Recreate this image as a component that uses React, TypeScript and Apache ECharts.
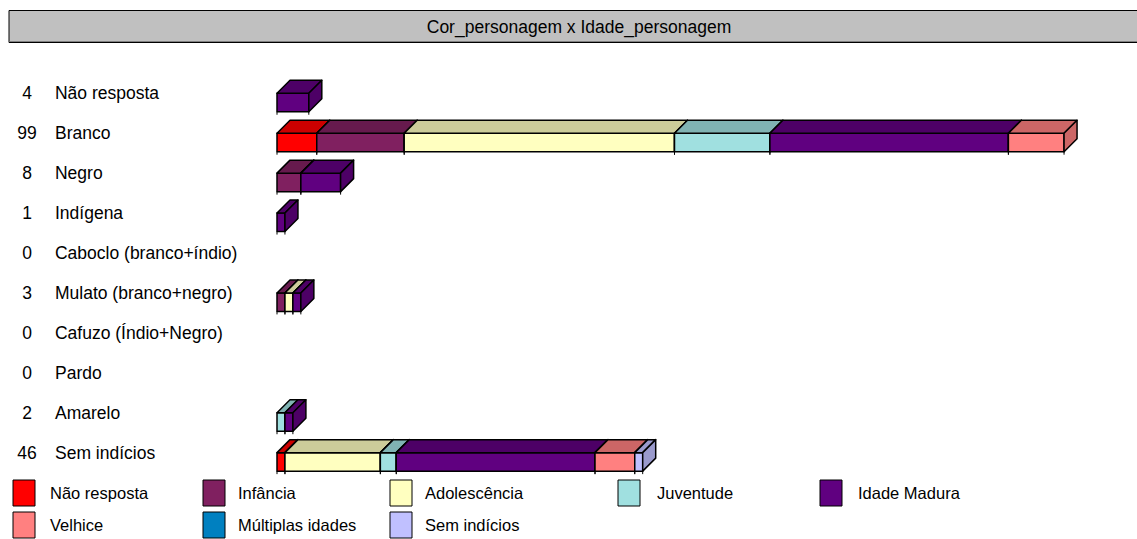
import React, { useEffect, useRef } from 'react';
import * as echarts from 'echarts';

// Categories (Cor_personagem)
const categories = [
  'Não resposta',
  'Branco',
  'Negro',
  'Indígena',
  'Caboclo (branco+índio)',
  'Mulato (branco+negro)',
  'Cafuzo (Índio+Negro)',
  'Pardo',
  'Amarelo',
  'Sem indícios',
];

// Series (Idade_personagem)
const ageGroups = [
  'Não resposta',
  'Infância',
  'Adolescência',
  'Juventude',
  'Idade Madura',
  'Velhice',
  'Múltiplas idades',
  'Sem indícios',
];

const naoResposta = [0, 5, 0, 0, 0, 0, 0, 0, 0, 1];
const infancia = [0, 11, 3, 0, 0, 1, 0, 0, 0, 0];
const adolescencia = [0, 34, 0, 0, 0, 1, 0, 0, 0, 12];
const juventude = [0, 12, 0, 0, 0, 0, 0, 0, 1, 2];
const idadeMadura = [4, 30, 5, 1, 0, 1, 0, 0, 1, 25];
const velhice = [0, 7, 0, 0, 0, 0, 0, 0, 0, 5];
const multiplasIdades = [0, 0, 0, 0, 0, 0, 0, 0, 0, 0];
const semIndicios = [0, 0, 0, 0, 0, 0, 0, 0, 0, 1];

const seriesValues = [
  naoResposta,
  infancia,
  adolescencia,
  juventude,
  idadeMadura,
  velhice,
  multiplasIdades,
  semIndicios,
];

const chartTitle = 'Cor_personagem x Idade_personagem';

// Styles
const frontColors = ['#FF0000', '#802060', '#FFFFC0', '#A0E0E0', '#600080', '#FF8080', '#0080C0', '#C0C0FF'];
const topColors = ['#CC0000', '#661A4D', '#CCCC9A', '#80B3B3', '#4D0066', '#CC6666', '#006699', '#9A9ACC'];
const FONT = "'Liberation Sans', Arial, sans-serif";
const FS = 17.5;
const LFS = 16.5;

export default function App() {
  const ref = useRef<HTMLDivElement>(null);

  useEffect(() => {
    const chart = echarts.init(ref.current as HTMLDivElement, null, { renderer: 'svg' });

    const totals = categories.map((_, i) => seriesValues.reduce((s, arr) => s + arr[i], 0));
    const cum = categories.map(() => 0);
    const D = 13;
    const H = 18.5;

    const series = seriesValues.map((vals, si) => {
      const data: number[][] = [];
      vals.forEach((v, ci) => {
        if (v > 0) data.push([ci, cum[ci], cum[ci] + v]);
        cum[ci] += v;
      });
      return {
        type: 'custom',
        name: ageGroups[si],
        data,
        encode: { x: [1, 2], y: 0 },
        renderItem: (params: any, api: any) => {
          const c = api.value(0);
          const s = api.value(1);
          const e = api.value(2);
          const p0 = api.coord([s, c]);
          const p1 = api.coord([e, c]);
          const x0 = p0[0];
          const x1 = p1[0];
          const y = p0[1];
          const st = { stroke: '#000', lineWidth: 1.5, lineJoin: 'round' };
          return {
            type: 'group',
            children: [
              {
                type: 'rect',
                shape: { x: x0, y, width: x1 - x0, height: H },
                style: { fill: frontColors[si], ...st },
                z2: si * 10,
              },
              {
                type: 'polygon',
                shape: { points: [[x0, y], [x0 + D, y - D], [x1 + D, y - D], [x1, y]] },
                style: { fill: topColors[si], ...st },
                z2: si * 10 + 1,
              },
              {
                type: 'polygon',
                shape: { points: [[x1, y], [x1 + D, y - D], [x1 + D, y + H - D], [x1, y + H]] },
                style: { fill: topColors[si], ...st },
                z2: si * 10 + 2,
              },
              {
                type: 'line',
                shape: { x1: x0, y1: y + H, x2: x0, y2: y + H + 3 },
                style: { stroke: '#000', lineWidth: 1 },
                z2: si * 10 + 3,
              },
              {
                type: 'line',
                shape: { x1: x1, y1: y + H, x2: x1, y2: y + H + 3 },
                style: { stroke: '#000', lineWidth: 1 },
                z2: si * 10 + 3,
              },
            ],
          };
        },
      };
    });

    // Legend via graphic
    const legendBoxX = [13, 203, 390, 618, 820];
    const legendTextX = [50, 238, 425, 657, 858];
    const legendRowY = [493, 525];
    const legendEls: any[] = [];
    ageGroups.forEach((name, i) => {
      const row = i < 5 ? 0 : 1;
      const col = i < 5 ? i : i - 5;
      const yc = legendRowY[row];
      legendEls.push({
        type: 'rect',
        shape: { x: legendBoxX[col], y: yc - 13, width: 22, height: 26 },
        style: { fill: frontColors[i], stroke: '#000', lineWidth: 1 },
      });
      legendEls.push({
        type: 'text',
        x: legendTextX[col],
        y: yc,
        style: {
          text: name,
          fill: '#000',
          font: `${LFS}px ${FONT}`,
          textAlign: 'left',
          textVerticalAlign: 'middle',
        },
      });
    });

    chart.setOption({
      animation: false,
      grid: { left: 277, top: 73.3, width: 795, height: 399.3 },
      xAxis: { type: 'value', min: 0, max: 100, show: false },
      yAxis: {
        type: 'category',
        data: categories,
        inverse: true,
        axisLine: { show: false },
        axisTick: { show: false },
        splitLine: { show: false },
        axisLabel: {
          align: 'left',
          margin: 265,
          formatter: (value: string, index: number) => `{n|${totals[index]}}{t|${value}}`,
          rich: {
            n: { width: 30, align: 'right', fontSize: FS, fontFamily: FONT, color: '#000' },
            t: { padding: [0, 0, 0, 13], fontSize: FS, fontFamily: FONT, color: '#000' },
          },
        },
      },
      graphic: [
        {
          type: 'rect',
          shape: { x: 9, y: 10.5, width: 1140, height: 32 },
          style: { fill: '#C0C0C0', stroke: '#000', lineWidth: 1 },
        },
        {
          type: 'line',
          shape: { x1: 9.5, y1: 41.5, x2: 1137, y2: 41.5 },
          style: { stroke: '#808080', lineWidth: 1 },
        },
        {
          type: 'text',
          x: 579,
          y: 27,
          style: {
            text: chartTitle,
            fill: '#000',
            font: `${FS}px ${FONT}`,
            textAlign: 'center',
            textVerticalAlign: 'middle',
          },
        },
        ...legendEls,
      ],
      series,
    });

    return () => chart.dispose();
  }, []);

  return (
    <div
      ref={ref}
      style={{ position: 'fixed', left: 0, top: 0, width: 1137, height: 539, background: '#fff' }}
    />
  );
}
